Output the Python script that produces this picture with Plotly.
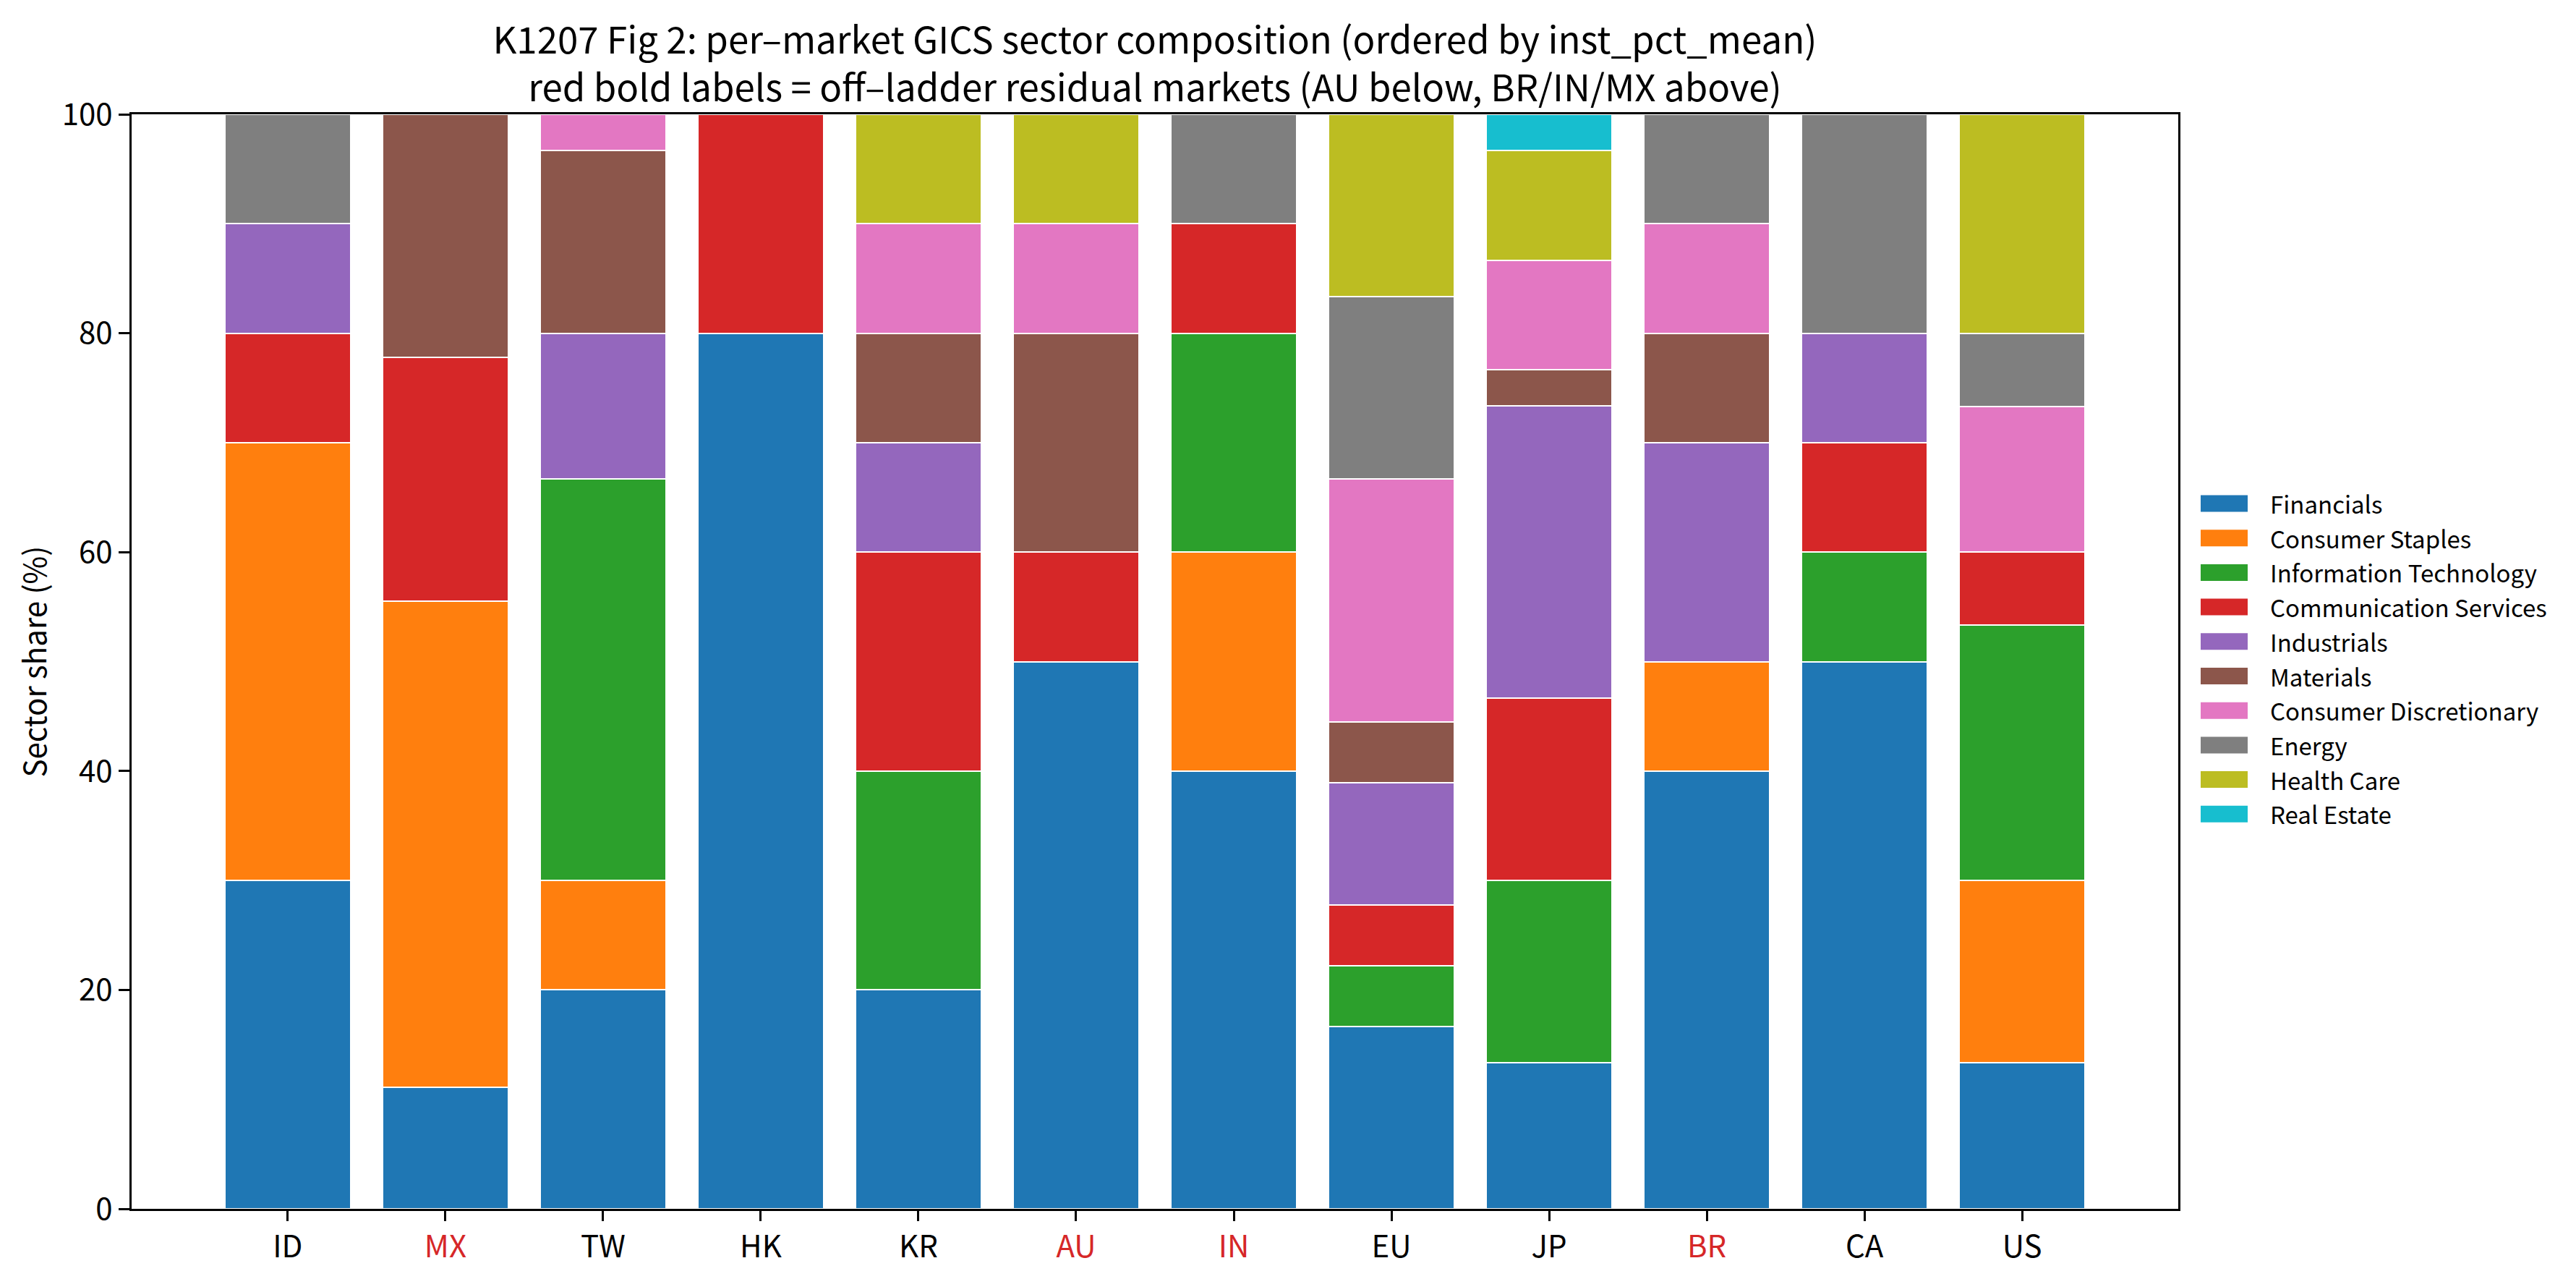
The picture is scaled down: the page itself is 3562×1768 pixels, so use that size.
import plotly.graph_objects as go

markets = ["ID", "MX", "TW", "HK", "KR", "AU", "IN", "EU", "JP", "BR", "CA", "US"]
residual_markets = ["MX", "AU", "IN", "BR"]

sectors = ["Financials", "Consumer Staples", "Information Technology",
           "Communication Services", "Industrials", "Materials",
           "Consumer Discretionary", "Energy", "Health Care", "Real Estate"]
sector_colors = ["#1f77b4", "#ff7f0e", "#2ca02c", "#d62728", "#9467bd",
                 "#8c564b", "#e377c2", "#7f7f7f", "#bcbd22", "#17becf"]

financials = [30, 11.11, 20, 80, 20, 50, 40, 16.67, 13.33, 40, 50, 13.33]
consumer_staples = [40, 44.44, 10, 0, 0, 0, 20, 0, 0, 10, 0, 16.67]
information_technology = [0, 0, 36.67, 0, 20, 0, 20, 5.56, 16.67, 0, 10, 23.33]
communication_services = [10, 22.22, 0, 20, 20, 10, 10, 5.56, 16.67, 0, 10, 6.67]
industrials = [10, 0, 13.33, 0, 10, 0, 0, 11.11, 26.67, 20, 10, 0]
materials = [0, 22.22, 16.67, 0, 10, 20, 0, 5.56, 3.33, 10, 0, 0]
consumer_discretionary = [0, 0, 3.33, 0, 10, 10, 0, 22.22, 10, 10, 0, 13.33]
energy = [10, 0, 0, 0, 0, 0, 10, 16.67, 0, 10, 20, 6.67]
health_care = [0, 0, 0, 0, 10, 10, 0, 16.67, 10, 0, 0, 20]
real_estate = [0, 0, 0, 0, 0, 0, 0, 0, 3.33, 0, 0, 0]

series = [financials, consumer_staples, information_technology, communication_services,
          industrials, materials, consumer_discretionary, energy, health_care, real_estate]

yticks = [0, 20, 40, 60, 80, 100]

FONT = "Noto Sans CJK JP"
RED = "#d62728"

fig = go.Figure()
xpos = list(range(len(markets)))
for name, color, vals in zip(sectors, sector_colors, series):
    fig.add_trace(go.Bar(
        x=xpos, y=[v if v > 0 else None for v in vals], name=name,
        marker=dict(color=color, line=dict(color="white", width=2)),
        width=0.8, showlegend=False,
    ))

ticktext = [f"<span style='color:{RED}'>{m}</span>" if m in residual_markets else m
            for m in markets]

# plot area geometry (pixels)
W, H = 3562, 1768
L, R, T, B = 182, 3012, 158, 1671
pw, ph = R - L, B - T

shapes = []
annotations = []
# custom legend (matplotlib style)
leg_y0 = 696
leg_step = 47.7
for i, (name, color) in enumerate(zip(sectors, sector_colors)):
    yc = leg_y0 + i * leg_step
    shapes.append(dict(type="rect", xref="paper", yref="paper",
                       x0=(3043 - L) / pw, x1=(3108 - L) / pw,
                       y0=(B - (yc - 11.5)) / ph, y1=(B - (yc + 11.5)) / ph,
                       fillcolor=color, line=dict(width=0)))
    annotations.append(dict(x=(3137 - L) / pw, y=(B - yc) / ph, xref="paper", yref="paper",
                            text=name, showarrow=False, xanchor="left", yanchor="middle",
                            font=dict(family=FONT, size=33, color="black")))

annotations.append(dict(x=(45 - L) / pw, y=0.5, xref="paper", yref="paper",
                        text="Sector share (%)", textangle=-90, showarrow=False,
                        xanchor="center", yanchor="middle",
                        font=dict(family=FONT, size=42, color="black")))

fig.update_layout(
    width=W, height=H,
    margin=dict(l=L, r=W - R, t=T, b=H - B, pad=0),
    paper_bgcolor="white", plot_bgcolor="white",
    barmode="stack", bargap=0,
    font=dict(family=FONT, size=42, color="black"),
    title=dict(
        text="K1207 Fig 2: per\u2013market GICS sector composition (ordered by inst_pct_mean)<br>"
             "red bold labels = off\u2013ladder residual markets (AU below, BR/IN/MX above)",
        x=(L + R) / 2 / W, xanchor="center", y=1 - 74 / H, yanchor="middle",
        xref="container", yref="container",
        font=dict(family=FONT, size=51, color="black"),
    ),
    shapes=shapes,
    annotations=annotations,
    showlegend=False,
)
fig.update_xaxes(
    range=[-0.99, 11.99], tickmode="array", tickvals=xpos, ticktext=ticktext,
    ticks="outside", ticklen=14, tickwidth=3, tickcolor="black",
    showline=True, linecolor="black", linewidth=3, mirror=True,
    showgrid=False, zeroline=False,
    tickfont=dict(family=FONT, size=42, color="black"),
)
fig.update_yaxes(
    range=[0, 100], tickmode="array", tickvals=yticks,
    ticks="outside", ticklen=15, tickwidth=3, tickcolor="black",
    showline=True, linecolor="black", linewidth=3, mirror=True,
    showgrid=False, zeroline=False,
    tickfont=dict(family=FONT, size=42, color="black"),
)

fig.write_html("out.html")
